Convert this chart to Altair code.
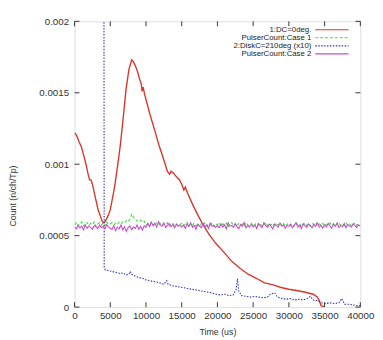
import altair as alt
import pandas as pd

# ---------------- data ----------------
red_x = [0, 300, 600, 960, 1300, 1600, 1900, 2100, 2300, 2500, 2900, 3300, 3600, 3800, 4000,
         4300, 4700, 5000, 5600, 6000, 6400, 6800, 7200, 7600, 8000, 8200, 8500, 8800, 9200,
         9350, 9450, 9600, 9800, 10550, 11200, 11900, 12500, 13000, 13300, 13500, 13800, 14300,
         14700, 15000, 15300, 15500, 15800, 16600, 17300, 17950, 18800, 19700, 20800, 22000,
         23200, 24300, 25500, 26600, 27800, 28900, 30000, 31100, 32300, 33400, 34000, 34300,
         34500, 35000]
red_y = [0.00122, 0.00120, 0.00116, 0.00112, 0.00106, 0.00100, 0.00093, 0.00089, 0.00089,
         0.00086, 0.00077, 0.00068, 0.00064, 0.00061, 0.00059, 0.00060, 0.00064, 0.00068,
         0.00084, 0.00098, 0.00113, 0.00132, 0.00152, 0.00166, 0.00173, 0.00172, 0.00169,
         0.00165, 0.00158, 0.00156, 0.00151, 0.00154, 0.00149, 0.00135, 0.00124, 0.00112,
         0.00103, 0.00095, 0.00093, 0.00095, 0.00094, 0.00091, 0.00089, 0.00086, 0.00082,
         0.00084, 0.00080, 0.00071, 0.00064, 0.00058, 0.00051, 0.00045, 0.00039, 0.00032,
         0.00027, 0.00023, 0.00020, 0.00017, 0.000155, 0.000137, 0.000125, 0.000116, 0.000104,
         0.00009, 0.00007, 0.00004, 0.00001, 0.0]

blue_x = [4100, 4150, 4300, 4800, 5200, 5600, 6000, 6400, 6800, 7200, 7600, 7800, 8000, 8400,
          8800, 9200, 9600, 10000, 10550, 11000, 11500, 12000, 12500, 12900, 13100, 13600,
          14200, 14800, 15200, 15800, 16400, 17000, 17400, 18000, 18600, 19200, 19800, 20400,
          21000, 21600, 22200, 22600, 22800, 23000, 23400, 24000, 24600, 25200, 25800, 26400,
          27000, 27400, 28000, 28400, 29000, 29600, 30200, 30800, 31400, 32000, 32600, 33000,
          33400, 34000, 34600, 35200, 35800, 36400, 37000, 37400, 37800, 38400, 39000, 39600,
          40000]
blue_y = [0.0030, 0.00028, 0.00026, 0.000255, 0.00025, 0.000245, 0.00024, 0.000235, 0.00024,
          0.000225, 0.00023, 0.00025, 0.00023, 0.00022, 0.00021, 0.000205, 0.0002, 0.00019,
          0.000185, 0.00018, 0.000175, 0.000168, 0.00016, 0.000185, 0.00016, 0.00015, 0.000145,
          0.00014, 0.000137, 0.00013, 0.000125, 0.00012, 0.000116, 0.00011, 0.000105, 0.0001,
          0.00009, 0.000085, 0.00009, 0.00008, 0.000085, 0.00012, 0.0002, 0.00011, 0.00008,
          0.000075, 0.00007, 0.000075, 0.00007, 0.000065, 0.00007, 0.00009, 0.0001, 0.00007,
          0.00006, 0.000055, 0.00006, 0.00005, 0.000055, 0.00005, 0.00006, 0.000075, 0.00005,
          0.000045, 0.00003, 0.000025, 0.00003, 0.000025, 0.00003, 0.00006, 0.00002, 0.00002,
          0.000015, 0.00001, 0.00001]

# pulser counts, sampled every 250 us, in units of 1e-6
pulser_step = 250
green_u = [575, 590, 570, 585, 595, 568, 580, 592, 572, 586, 578, 596, 565, 583, 590, 574, 588, 570, 595, 580,
           582, 590, 576, 588, 580, 594, 584, 596, 590, 604, 598, 615, 650, 628, 612, 605, 598, 610, 596, 602,
           576, 584, 570, 588, 574, 580, 590, 568, 584, 572, 582, 576, 590, 566, 580, 586, 572, 582, 568, 578,
           586, 570, 580, 594, 566, 582, 574, 588, 568, 584, 562, 586, 576, 590, 568, 580, 574, 588, 566, 582,
           576, 590, 568, 583, 572, 587, 564, 581, 592, 570, 578, 566, 586, 574, 582, 568, 590, 576, 572, 585,
           567, 580, 589, 573, 584, 565, 579, 593, 571, 582, 575, 587, 568, 581, 576, 590, 570, 584, 566, 579,
           586, 572, 581, 568, 590, 576, 564, 583, 575, 588, 571, 580, 566, 585, 578, 592, 570, 582, 574, 586,
           568, 581, 576, 589, 572, 584, 566, 580, 587, 574, 582, 570, 588, 576, 584, 567, 580, 590, 573, 582,
           576]
magenta_u = [560, 548, 572, 555, 566, 540, 575, 552, 568, 558, 545, 570, 562, 550, 574, 556, 565, 548, 578, 560,
             552, 545, 570, 535, 560, 548, 575, 540, 562, 530, 556, 568, 542, 560, 550, 575, 545, 565, 538, 570,
             558, 585, 562, 595, 570, 588, 560, 598, 575, 565, 590, 558, 572, 585, 562, 578, 555, 580, 566, 572,
             560, 575, 550, 582, 565, 590, 558, 572, 545, 580, 568, 555, 585, 562, 575, 550, 588, 565, 572, 558,
             570, 555, 582, 560, 575, 548, 590, 565, 572, 558, 585, 562, 550, 578, 565, 592, 555, 572, 560, 580,
             562, 575, 550, 585, 568, 556, 590, 570, 558, 580, 565, 548, 582, 570, 560, 588, 566, 575, 552, 572,
             565, 580, 555, 572, 590, 560, 575, 550, 585, 568, 558, 582, 570, 555, 578, 565, 588, 560, 572, 552,
             575, 560, 585, 568, 552, 580, 565, 590, 558, 572, 562, 585, 555, 578, 568, 560, 582, 570, 558, 575,
             568]

x_ticks = [0, 5000, 10000, 15000, 20000, 25000, 30000, 35000, 40000]
y_ticks = [0, 0.0005, 0.001, 0.0015, 0.002]

legend_names = ["1:DC=0deg.", "PulserCount:Case 1", "2:DiskC=210deg (x10)", "PulserCount:Case 2"]
legend_colors = ["#d8362b", "#3ddc3d", "#3030b0", "#c84ccc"]
legend_dash = [[1, 0], [3, 2], [1.5, 1.5], [1, 0]]

# ---------------- build ----------------
W = H = 292
FONT = "Liberation Sans"
xscale = alt.Scale(domain=[0, 40000], nice=False, zero=False)
yscale = alt.Scale(domain=[0, 0.002], nice=False)

xaxis = alt.Axis(values=x_ticks, format="d", grid=False, domain=False, ticks=False,
                 labelPadding=4, labelFontSize=10, labelFont=FONT, labelColor="#333333",
                 labelFlush=False, labelOverlap=False,
                 title="Time (us)", titleFont=FONT, titleFontSize=9, titleFontWeight="normal",
                 titleColor="#333333", titleY=25, titleBaseline="middle")
yaxis = alt.Axis(values=y_ticks, format="~f", grid=False, domain=False, ticks=False,
                 labelPadding=6, labelFontSize=10, labelFont=FONT, labelColor="#333333",
                 labelFlush=False, labelOverlap=False,
                 title="Count (n/ch/Tp)", titleFont=FONT, titleFontSize=9, titleFontWeight="normal",
                 titleColor="#333333", titleX=-63, titleY=178, titleAngle=270, titleBaseline="middle",
                 titleAlign="center")

X = alt.X("x:Q", scale=xscale, axis=xaxis)
Y = alt.Y("y:Q", scale=yscale, axis=yaxis)

red_df = pd.DataFrame({"x": red_x, "y": red_y})
blue_df = pd.DataFrame({"x": blue_x, "y": blue_y})
px = [i * pulser_step for i in range(len(green_u))]
green_df = pd.DataFrame({"x": px, "y": [v * 1e-6 for v in green_u]})
mag_df = pd.DataFrame({"x": px, "y": [v * 1e-6 for v in magenta_u]})

red = alt.Chart(red_df).mark_line(color=legend_colors[0], strokeWidth=1.4, clip=True).encode(x=X, y=Y)
green = alt.Chart(green_df).mark_line(color=legend_colors[1], strokeWidth=1.1, strokeDash=legend_dash[1],
                                      clip=True).encode(x=X, y=Y)
blue = alt.Chart(blue_df).mark_line(color=legend_colors[2], strokeWidth=1.1, strokeDash=legend_dash[2],
                                    clip=True).encode(x=X, y=Y)
mag = alt.Chart(mag_df).mark_line(color=legend_colors[3], strokeWidth=1.1, clip=True).encode(x=X, y=Y)

xt = pd.DataFrame({"x": x_ticks})
yt = pd.DataFrame({"y": y_ticks})
TL = 5
tick_style = dict(color="#333333", strokeWidth=1)
ticks = [
    alt.Chart(xt).mark_rule(**tick_style).encode(x=X, y=alt.value(H), y2=alt.value(H - TL)),
    alt.Chart(xt).mark_rule(**tick_style).encode(x=X, y=alt.value(0), y2=alt.value(TL)),
    alt.Chart(yt).mark_rule(**tick_style).encode(y=Y, x=alt.value(0), x2=alt.value(TL)),
    alt.Chart(yt).mark_rule(**tick_style).encode(y=Y, x=alt.value(W), x2=alt.value(W - TL)),
]

legend_layers = []
row0, row_h = 8.6, 8.2
for i, (name, col, dash) in enumerate(zip(legend_names, legend_colors, legend_dash)):
    yy = row0 + i * row_h
    one = alt.Data(values=[{"k": i}])
    legend_layers.append(
        alt.Chart(one).mark_text(align="right", baseline="middle", font=FONT, fontSize=8,
                                 color="#222222").encode(
            x=alt.value(242), y=alt.value(yy), text=alt.value(name)))
    legend_layers.append(
        alt.Chart(one).mark_rule(color=col, strokeWidth=1.2, strokeDash=dash).encode(
            x=alt.value(246), x2=alt.value(280), y=alt.value(yy)))

chart = alt.layer(red, green, blue, mag, *ticks, *legend_layers).properties(
    width=W, height=H,
    autosize=alt.AutoSizeParams(type="none"),
    padding={"left": 68, "top": 10, "right": 15, "bottom": 30},
).configure_view(stroke="#333333", strokeWidth=1).configure(background="white")

chart.save("out.html", embed_options={"renderer": "svg", "actions": False})
